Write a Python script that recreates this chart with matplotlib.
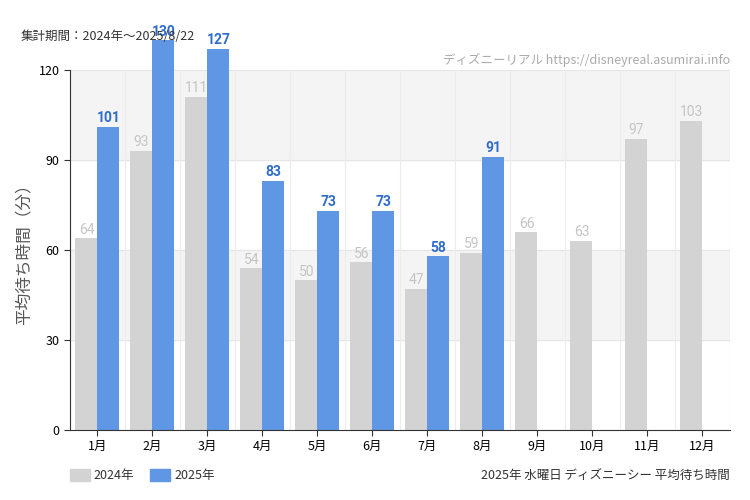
import matplotlib.pyplot as plt
import numpy as np

plt.rcParams['font.family'] = ['Noto Sans CJK JP']

months = ["1月", "2月", "3月", "4月", "5月", "6月", "7月", "8月", "9月", "10月", "11月", "12月"]
wait2024 = [64, 93, 111, 54, 50, 56, 47, 59, 66, 63, 97, 103]
wait2025 = [101, 130, 127, 83, 73, 73, 58, 91]

c24 = "#d3d3d3"
c25 = "#5f97e4"

fig = plt.figure(figsize=(7.5, 5), dpi=100)
ax = fig.add_axes([0.0933, 0.14, 0.88, 0.72])

for lo in (30, 90):
    ax.axhspan(lo, lo + 30, color="#f4f4f4", zorder=0)
for v in (30, 60, 90, 120):
    ax.axhline(v, color="#e6e6e6", lw=0.8, zorder=0)
for i in range(len(months) + 1):
    ax.axvline(i - 0.5, color="#ececec", lw=0.8, zorder=0)

x = np.arange(len(months))
w = 0.4
ax.bar(x - w / 2, wait2024, w, color=c24, zorder=2, clip_on=False)
x25 = x[:len(wait2025)]
ax.bar(x25 + w / 2, wait2025, w, color=c25, zorder=2, clip_on=False)

for xi, v in zip(x, wait2024):
    ax.text(xi - w / 2, v + 0.5, str(v), ha="center", va="bottom", fontsize=10,
            color="#c4c4c4", fontfamily="Roboto", fontstretch="condensed")
for xi, v in zip(x25, wait2025):
    ax.text(xi + w / 2, v + 0.5, str(v), ha="center", va="bottom", fontsize=10,
            color="#2f6ccc", fontfamily="Roboto", fontweight="bold")

ax.set_xlim(-0.5, len(months) - 0.5)
ax.set_ylim(0, 120)
ax.set_yticks([0, 30, 60, 90, 120])
ax.set_xticks(x)
ax.set_xticklabels(months, fontsize=9)
ax.tick_params(axis="y", labelsize=9, length=4, color="#333333")
ax.tick_params(axis="x", length=4, color="#333333")
for s in ("top", "right"):
    ax.spines[s].set_visible(False)
ax.spines["left"].set_color("#333333")
ax.spines["bottom"].set_color("#333333")
ax.set_ylabel("平均待ち時間（分）", fontsize=12, color="#555555")

fig.text(0.027, 0.926, "集計期間：2024年～2025/8/22", fontsize=9, color="#333333", va="center")
fig.text(0.973, 0.88, "ディズニーリアル https://disneyreal.asumirai.info", fontsize=9,
         color="#aaaaaa", ha="right", va="center")
fig.text(0.973, 0.05, "2025年 水曜日 ディズニーシー 平均待ち時間", fontsize=9,
         color="#333333", ha="right", va="center")

fig.patches.append(plt.Rectangle((0.093, 0.038), 0.027, 0.025, color=c24, transform=fig.transFigure))
fig.text(0.125, 0.05, "2024年", fontsize=9, color="#333333", va="center")
fig.patches.append(plt.Rectangle((0.2, 0.038), 0.027, 0.025, color=c25, transform=fig.transFigure))
fig.text(0.232, 0.05, "2025年", fontsize=9, color="#333333", va="center")

fig.savefig("out.png")
